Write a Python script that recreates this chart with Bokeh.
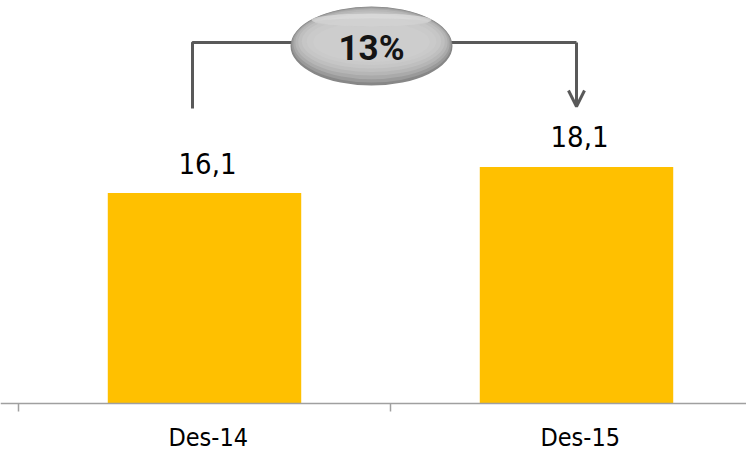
from bokeh.plotting import figure
from bokeh.models import ColumnDataSource, Range1d, Arrow, OpenHead
from bokeh.core.properties import value
from bokeh.embed import file_html
from bokeh.resources import INLINE

# ---- data ----
categories = ["Des-14", "Des-15"]
values = [16.1, 18.1]
value_labels = ["16,1", "18,1"]
growth_label = "13%"

# ---- layout constants (pixels) ----
W, H = 746, 453
X0_PX = 18          # left edge of first category
BASE_PX = 403       # baseline (y = 0)
PX_PER_CAT = 372.0
PX_PER_UNIT = 13.07

def dx(px):
    return (px - X0_PX) / PX_PER_CAT

def dy(py):
    return (BASE_PX - py) / PX_PER_UNIT

xs = [i + 0.5 for i in range(len(categories))]

p = figure(width=W, height=H, output_backend="svg", toolbar_location=None,
           x_range=Range1d(dx(0), dx(W)), y_range=Range1d(dy(H), dy(0)),
           min_border_left=0, min_border_right=0, min_border_top=0,
           min_border_bottom=0)
p.outline_line_color = None
p.xaxis.visible = False
p.yaxis.visible = False
p.xgrid.visible = False
p.ygrid.visible = False

# bars
src = ColumnDataSource(dict(x=xs, top=values, lab=value_labels))
p.vbar(x="x", top="top", width=0.52, source=src, fill_color="#FFC000",
       line_color=None)

# value labels
p.text(x="x", y="top", text="lab", source=src, x_offset=3, y_offset=-30,
       text_align="center", text_baseline="middle",
       text_font=value("DejaVu Sans Condensed"), text_font_size="29px",
       text_color="#000000")

# category axis: baseline, boundary ticks, labels
n = len(categories)
p.segment(x0=[dx(0)], y0=[0], x1=[dx(W)], y1=[0], line_color="#a0a0a0",
          line_width=1.5)
bounds = list(range(n + 1))
p.segment(x0=bounds, y0=[0] * len(bounds), x1=bounds,
          y1=[dy(BASE_PX + 8)] * len(bounds), line_color="#a0a0a0",
          line_width=1.5)
p.text(x=[x + 0.01 for x in xs], y=[dy(437)] * n, text=categories,
       text_align="center", text_baseline="middle",
       text_font=value("DejaVu Sans Condensed"), text_font_size="25px",
       text_color="#000000")

# growth bracket
bx0, bx1 = dx(192), xs[1]
by_top = dy(42)
p.multi_line(xs=[[bx0, bx0, bx1]], ys=[[dy(108), by_top, by_top]],
             line_color="#595959", line_width=3)
p.add_layout(Arrow(end=OpenHead(size=16, line_color="#595959", line_width=3),
                   x_start=bx1, y_start=by_top, x_end=bx1, y_end=dy(106),
                   line_color="#595959", line_width=3))

# ellipse badge with faux gradient
ex, ey = dx(371), dy(45.5)
ew, eh = 162 / PX_PER_CAT, 79 / PX_PER_UNIT
layers = [
    (1.00, 1.00, 0.00, "#878787"),
    (0.985, 0.955, 0.015, "#9a9a9a"),
    (0.965, 0.90, 0.03, "#aaaaaa"),
    (0.94, 0.84, 0.045, "#b6b6b6"),
    (0.905, 0.77, 0.055, "#bfbfbf"),
    (0.86, 0.69, 0.06, "#c6c6c6"),
    (0.80, 0.60, 0.06, "#cacaca"),
    (0.72, 0.50, 0.05, "#cdcdcd"),
]
for sw, sh, off, col in layers:
    p.ellipse(x=[ex], y=[ey + off * eh], width=ew * sw, height=eh * sh,
              fill_color=col, line_color=None)
p.ellipse(x=[ex], y=[ey + 0.33 * eh], width=ew * 0.74, height=eh * 0.16,
          fill_color="#e4e4e4", fill_alpha=0.6, line_color=None)
p.ellipse(x=[ex], y=[ey + 0.30 * eh], width=ew * 0.70, height=eh * 0.10,
          fill_color="#cdcdcd", fill_alpha=0.7, line_color=None)

p.text(x=[ex], y=[dy(48)], text=[growth_label], text_align="center",
       text_baseline="middle", text_font=value("Roboto"),
       text_font_style="bold", text_font_size="35px", text_color="#141414")

open("out.html", "w").write(file_html(p, INLINE))
